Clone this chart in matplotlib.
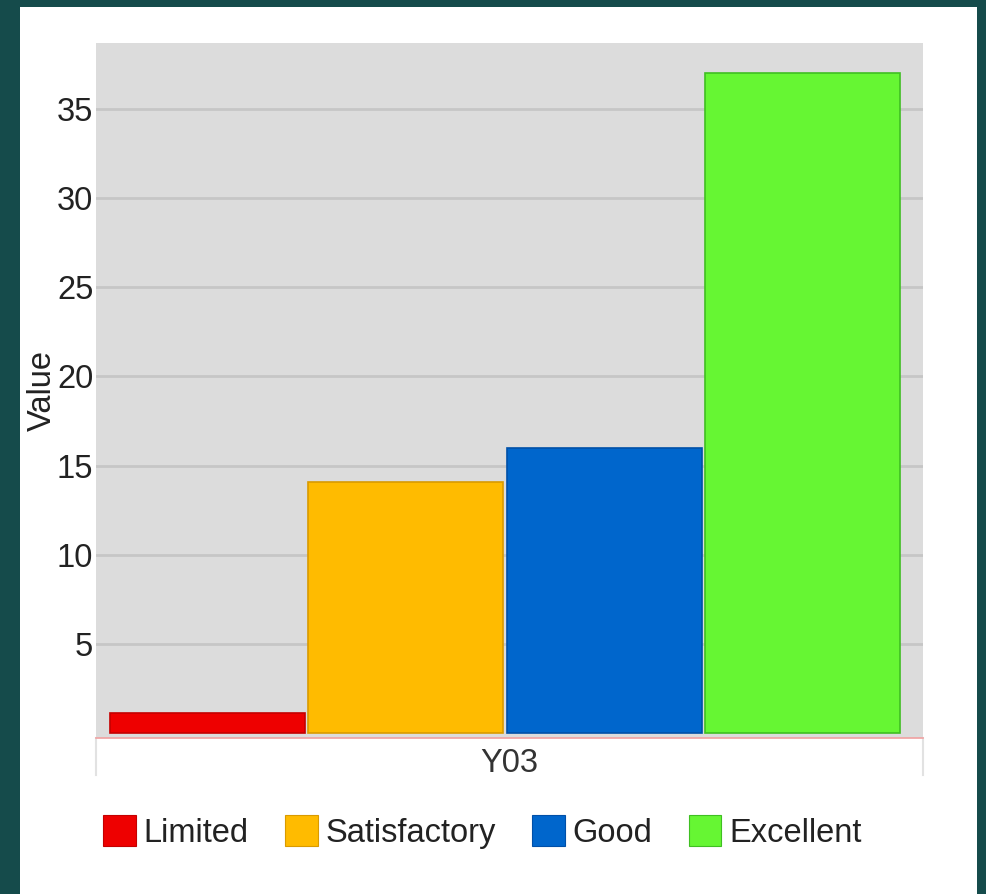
#!/usr/bin/env python3
import matplotlib
matplotlib.use('AGG')
from matplotlib import pyplot as plt
from matplotlib.patches import Rectangle, Patch
from matplotlib.lines import Line2D

categories = ['Limited', 'Satisfactory', 'Good', 'Excellent']
values = [1.1, 14.1, 16.0, 37.0]
colors = ['#ee0000', '#ffbb00', '#0066cc', '#66f633']
edges = ['#c40000', '#d99a00', '#0050a8', '#3fbf22']
group_label = 'Y03'
yticks = [5, 10, 15, 20, 25, 30, 35]

plt.rcParams['font.family'] = ['Liberation Sans', 'DejaVu Sans']
FS = 23.5

fig = plt.figure(figsize=(9.87, 8.94), dpi=100, facecolor='#154b4b')
fig.patches.append(Rectangle((0.0203, 0), 0.9696, 0.992, transform=fig.transFigure,
                             facecolor='white', edgecolor='none', zorder=-5))

ax = fig.add_axes([0.0973, 0.1745, 0.838, 0.7774])
ax.set_facecolor('#dcdcdc')
x = range(len(values))
ax.bar(x, values, width=0.983, color=colors, edgecolor=edges, linewidth=1.2, zorder=3)

ax.set_xlim(-0.562, 3.608)
ax.set_ylim(-0.28, 38.7)
ax.set_yticks(yticks)
ax.yaxis.grid(True, color='#c6c6c6', linewidth=2)
ax.set_axisbelow(True)
ax.tick_params(axis='y', length=0, pad=2, labelsize=FS, labelcolor='#222222')

xl = ax.get_xlim()
ax.set_xticks([(xl[0] + xl[1]) / 2])
ax.set_xticklabels([group_label])
ax.tick_params(axis='x', length=0, pad=7, labelsize=FS, labelcolor='#333333')

for s in ['top', 'left', 'right']:
    ax.spines[s].set_visible(False)
ax.spines['bottom'].set_color('#f0a0a0')
ax.spines['bottom'].set_linewidth(1.2)

# category box edges below axis
for xa in (0.0, 1.0):
    ax.add_line(Line2D([xa, xa], [0, -0.053], transform=ax.transAxes,
                       color='#e2e2e2', linewidth=1.5, clip_on=False))

ax.set_ylabel('Value', fontsize=FS, color='#222222')
ax.yaxis.set_label_coords(-0.046, 0.5)

handles = [Patch(facecolor=c, edgecolor=e, linewidth=0.8) for c, e in zip(colors, edges)]
fig.legend(handles, categories, loc='center left', bbox_to_anchor=(0.1044, 0.0694),
           ncol=4, frameon=False, fontsize=FS, handlelength=1.0, handleheight=1.1,
           handletextpad=0.25, columnspacing=1.1, borderpad=0, borderaxespad=0,
           labelcolor='#222222')

fig.savefig('out.png', dpi=100, facecolor=fig.get_facecolor())
